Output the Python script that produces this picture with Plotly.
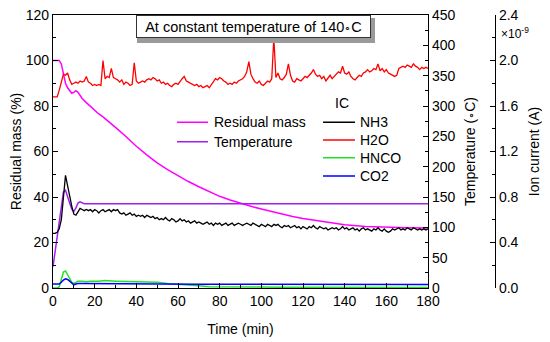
import plotly.graph_objects as go

# ---------------- data ----------------
# Residual mass (%)
mass_t = [0, 1, 2, 3, 4, 5, 6, 7, 8, 9, 10, 11, 12, 13, 14, 16, 18, 20, 22, 24, 26, 30, 35, 40, 45,
          50, 55, 60, 65, 70, 75, 80, 85, 90, 95, 100, 105, 110, 115, 120, 130, 140, 150, 160, 170, 180]
mass_v = [100, 100, 100, 100, 98.5, 94, 90, 88, 86.5, 85.6, 86, 86.7, 86, 84.5, 83.3, 81.5, 79.8,
          78.2, 76.5, 75.2, 73.8, 70.6, 66.6, 62.3, 58.5, 55, 52, 49.3, 46.8, 44.5, 42.3, 40.3, 38.7,
          37.2, 35.9, 34.7, 33.5, 32.4, 31.4, 30.5, 29, 27.8, 27, 26.6, 26.5, 26.4]

# Temperature (deg C)
temp_t = [0, 1, 2, 3, 4, 5, 6, 7, 8, 9, 10, 11, 12, 13, 14, 15, 180]
temp_v = [35, 60, 85, 110, 137, 158, 161, 152, 140, 130, 126, 132, 140, 142, 140, 139, 139]

# Ion currents (x 1e-9 A), 1-min sampling
ic_t = list(range(0, 181))
nh3 = [0.48, 0.48, 0.49, 0.52, 0.60, 0.82, 0.99, 0.90, 0.80, 0.72, 0.65, 0.64, 0.67, 0.70, 0.69, 0.68,
       0.69, 0.68, 0.69, 0.67, 0.69, 0.68, 0.66, 0.68, 0.69, 0.67, 0.68, 0.69, 0.67, 0.69, 0.68, 0.69,
       0.66, 0.65, 0.66, 0.64, 0.65, 0.66, 0.64, 0.65, 0.63, 0.64, 0.63, 0.64, 0.62, 0.64, 0.63, 0.62,
       0.63, 0.61, 0.62, 0.60, 0.61, 0.60, 0.62, 0.60, 0.59, 0.61, 0.60, 0.58, 0.59, 0.61, 0.59, 0.60,
       0.58, 0.59, 0.57, 0.58, 0.59, 0.57, 0.58, 0.57, 0.56, 0.57, 0.58, 0.56, 0.57, 0.55, 0.57, 0.56,
       0.57, 0.55, 0.56, 0.57, 0.55, 0.56, 0.57, 0.55, 0.56, 0.57, 0.56, 0.55, 0.56, 0.57, 0.56, 0.55,
       0.57, 0.56, 0.55, 0.54, 0.56, 0.55, 0.54, 0.56, 0.55, 0.54, 0.56, 0.55, 0.56, 0.54, 0.53, 0.55,
       0.54, 0.55, 0.53, 0.54, 0.55, 0.53, 0.54, 0.52, 0.54, 0.53, 0.52, 0.54, 0.53, 0.55, 0.53, 0.52,
       0.54, 0.53, 0.52, 0.53, 0.51, 0.52, 0.53, 0.52, 0.53, 0.51, 0.52, 0.54, 0.52, 0.53, 0.51, 0.52,
       0.53, 0.51, 0.52, 0.50, 0.52, 0.53, 0.51, 0.52, 0.51, 0.50, 0.52, 0.51, 0.53, 0.51, 0.50, 0.52,
       0.50, 0.49, 0.50, 0.52, 0.51, 0.52, 0.53, 0.51, 0.52, 0.51, 0.53, 0.52, 0.51, 0.53, 0.52, 0.51,
       0.52, 0.51, 0.52, 0.51, 0.52]
h2o = [1.68, 1.68, 1.68, 1.74, 1.82, 1.88, 1.87, 1.89, 1.83, 1.79, 1.80, 1.81, 1.80, 1.82, 1.81, 1.82,
       1.86, 1.81, 1.80, 1.78, 1.79, 1.78, 1.79, 1.78, 2.00, 1.84, 1.86, 1.85, 1.93, 1.85, 1.84, 1.83,
       1.81, 1.83, 1.79, 1.81, 1.80, 1.78, 1.79, 1.98, 1.82, 1.80, 1.81, 1.82, 1.81, 1.83, 1.84, 1.83,
       1.85, 1.84, 1.82, 1.83, 1.80, 1.81, 1.79, 1.80, 1.78, 1.77, 1.79, 1.80, 1.79, 1.82, 1.84, 1.86,
       1.82, 1.81, 1.80, 1.79, 1.78, 1.79, 1.77, 1.78, 1.76, 1.77, 1.78, 1.76, 1.79, 1.81, 1.84, 1.83,
       1.85, 1.84, 1.82, 1.81, 1.79, 1.80, 1.79, 1.81, 1.80, 1.82, 1.83, 1.84, 1.86, 1.90, 1.99, 1.88,
       1.84, 1.81, 1.80, 1.82, 1.79, 1.78, 1.80, 1.82, 1.81, 1.84, 2.20, 1.85, 1.89, 1.84, 1.83, 1.85,
       1.88, 1.97, 1.87, 1.82, 1.81, 1.84, 1.83, 1.82, 1.84, 1.86, 1.85, 1.87, 1.89, 1.92, 1.88, 1.86,
       1.87, 1.84, 1.86, 1.82, 1.85, 1.87, 1.84, 1.86, 1.88, 1.90, 1.89, 1.95, 1.89, 1.88, 1.90, 1.86,
       1.84, 1.83, 1.85, 1.87, 1.86, 1.89, 1.90, 1.92, 1.90, 1.91, 1.93, 1.92, 1.97, 1.91, 1.93, 1.90,
       1.92, 1.89, 1.88, 1.87, 1.86, 1.87, 1.93, 1.94, 1.95, 1.94, 1.96, 1.95, 1.94, 1.97, 1.95, 1.94,
       1.92, 1.94, 1.93, 1.94, 1.93]

minor_t = [0, 1, 2, 3, 4, 5, 6, 7, 8, 9, 10, 11, 12, 14, 16, 18, 20, 22, 25, 28, 30, 35, 40, 45, 50,
           55, 60, 65, 70, 75, 80, 90, 100, 110, 120, 130, 140, 150, 160, 170, 180]
hnco = [0.0, 0.0, 0.0, 0.01, 0.08, 0.14, 0.15, 0.12, 0.08, 0.05, 0.04, 0.05, 0.06, 0.06, 0.055, 0.06,
        0.058, 0.06, 0.065, 0.058, 0.06, 0.057, 0.055, 0.056, 0.05, 0.04, 0.035, 0.03, 0.02, 0.012,
        0.01, 0.008, 0.008, 0.007, 0.007, 0.006, 0.006, 0.006, 0.005, 0.005, 0.005]
co2 = [0.035, 0.035, 0.035, 0.036, 0.05, 0.07, 0.08, 0.075, 0.06, 0.04, 0.028, 0.035, 0.04, 0.04,
       0.04, 0.04, 0.038, 0.04, 0.04, 0.038, 0.038, 0.037, 0.037, 0.036, 0.036, 0.035, 0.035, 0.034,
       0.034, 0.033, 0.033, 0.032, 0.032, 0.031, 0.031, 0.03, 0.03, 0.03, 0.03, 0.03, 0.03]

legend1_names = ["Residual mass", "Temperature"]
legend2_names = ["NH3", "H2O", "HNCO", "CO2"]

FONT = "Liberation Sans, Arial, sans-serif"
C_MASS, C_TEMP = "#FF00FF", "#A020F0"
C_NH3, C_H2O, C_HNCO, C_CO2 = "#000000", "#FF0000", "#22E022", "#0000FF"

fig = go.Figure()
fig.add_trace(go.Scatter(x=mass_t, y=mass_v, mode="lines", name=legend1_names[0],
                         line=dict(color=C_MASS, width=1.5), yaxis="y"))
fig.add_trace(go.Scatter(x=temp_t, y=temp_v, mode="lines", name=legend1_names[1],
                         line=dict(color=C_TEMP, width=1.5), yaxis="y2"))
fig.add_trace(go.Scatter(x=ic_t, y=nh3, mode="lines", name=legend2_names[0],
                         line=dict(color=C_NH3, width=1.3), yaxis="y3"))
fig.add_trace(go.Scatter(x=ic_t, y=h2o, mode="lines", name=legend2_names[1],
                         line=dict(color=C_H2O, width=1.3), yaxis="y3"))
fig.add_trace(go.Scatter(x=minor_t, y=hnco, mode="lines", name=legend2_names[2],
                         line=dict(color=C_HNCO, width=1.5), yaxis="y3"))
fig.add_trace(go.Scatter(x=minor_t, y=co2, mode="lines", name=legend2_names[3],
                         line=dict(color=C_CO2, width=1.5), yaxis="y3"))

axis_common = dict(showgrid=False, zeroline=False, showline=True, linecolor="black", linewidth=1.2,
                   ticks="inside", ticklen=5, tickcolor="black", tickwidth=1.2, automargin=False,
                   ticklabeloverflow="allow",
                   tickfont=dict(size=14, color="black", family=FONT))

# page body has an 8px margin: figure is sized/offset to compensate
fig.update_layout(
    width=542, height=334,
    margin=dict(l=45, r=55, t=7, b=54),
    paper_bgcolor="white", plot_bgcolor="white",
    font=dict(family=FONT, size=14, color="black"),
    showlegend=False,
    xaxis=dict(domain=[0, 0.8484], range=[0, 180], dtick=20, mirror=True,
               minor=dict(dtick=10, ticks="inside", ticklen=3, tickcolor="black"),
               title=dict(text="Time (min)", font=dict(size=14), standoff=16), **axis_common),
    yaxis=dict(range=[0, 120], dtick=20,
               minor=dict(dtick=10, ticks="inside", ticklen=3, tickcolor="black"),
               title=dict(text="Residual mass (%)", font=dict(size=14), standoff=8), **axis_common),
    yaxis2=dict(range=[0, 450], dtick=50, overlaying="y", side="right", anchor="x",
                minor=dict(dtick=25, ticks="inside", ticklen=3, tickcolor="black"),
                title=dict(text="Temperature (<span style='font-size:11px'>\u2218</span>C)",
                           font=dict(size=14), standoff=10), **axis_common),
    yaxis3=dict(range=[0, 2.4], dtick=0.4, tickformat=".1f", overlaying="y", side="right",
                anchor="free", position=1.0,
                minor=dict(dtick=0.2, ticks="inside", ticklen=3, tickcolor="black"),
                title=dict(text="Ion current (A)", font=dict(size=14), standoff=11), **axis_common),
)

# shadowed title box
fig.add_shape(type="rect", xref="paper", yref="paper", x0=0.1900, x1=0.7285, y0=0.8972, y1=0.9890,
              fillcolor="#9a9a9a", line=dict(width=0), layer="above")
fig.add_annotation(text="At constant temperature of 140<span style='font-size:11px'>\u2218</span>C",
                   xref="paper", yref="paper", x=0.4536, y=0.9597, xanchor="center",
                   yanchor="middle", showarrow=False,
                   font=dict(size=14.5), width=229, height=17, borderpad=2,
                   bordercolor="#333333", borderwidth=1, bgcolor="white")

# manual legend (compact item spacing as in the reference)
leg1_y = [0.607, 0.536]
for name, col, yy in zip(legend1_names, [C_MASS, C_TEMP], leg1_y):
    fig.add_shape(type="line", xref="paper", yref="paper", x0=0.2805, x1=0.3507, y0=yy, y1=yy,
                  line=dict(color=col, width=1.5))
    fig.add_annotation(text=name, xref="paper", yref="paper", x=0.3597, y=yy, xanchor="left",
                       yanchor="middle", showarrow=False, font=dict(size=14))

fig.add_annotation(text="IC", xref="paper", yref="paper", x=0.6335, y=0.679, xanchor="left",
                   yanchor="middle", showarrow=False, font=dict(size=14))
leg2_y = [0.607, 0.542, 0.4773, 0.4103]
for name, col, yy in zip(legend2_names, [C_NH3, C_H2O, C_HNCO, C_CO2], leg2_y):
    fig.add_shape(type="line", xref="paper", yref="paper", x0=0.6109, x1=0.6833, y0=yy, y1=yy,
                  line=dict(color=col, width=1.5))
    fig.add_annotation(text=name, xref="paper", yref="paper", x=0.690, y=yy, xanchor="left",
                       yanchor="middle", showarrow=False, font=dict(size=14))

fig.add_annotation(text="\u00d710<sup>-9</sup>", xref="paper", yref="paper", x=1.010, y=0.935,
                   xanchor="left", yanchor="middle", showarrow=False, font=dict(size=12))

fig.write_html("out.html")
